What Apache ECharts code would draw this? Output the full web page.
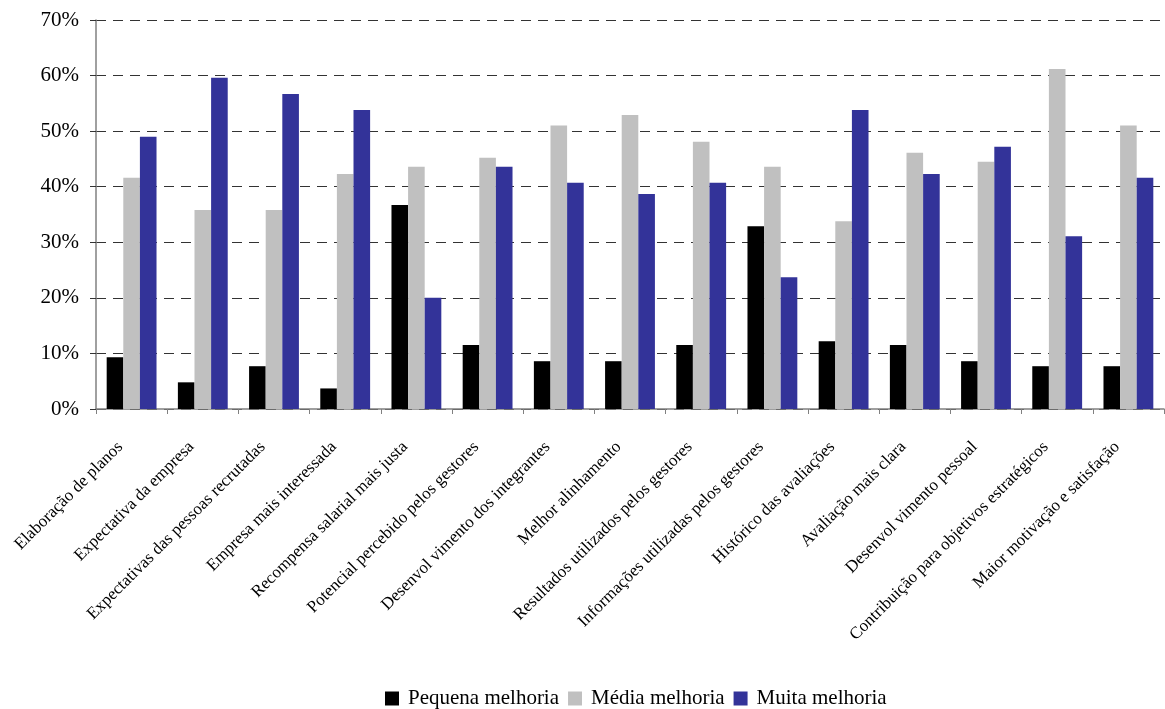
<!DOCTYPE html>
<html>
<head>
<meta charset="utf-8">
<script src="https://cdn.jsdelivr.net/npm/echarts@6/dist/echarts.min.js"></script>
<style>
html,body{margin:0;padding:0;background:#fff;}
#chart{width:1165px;height:709px;}
</style>
</head>
<body>
<div id="chart"></div>
<script>
const categories = [
  "Elaboração de planos",
  "Expectativa da empresa",
  "Expectativas das pessoas recrutadas",
  "Empresa mais interessada",
  "Recompensa salarial mais justa",
  "Potencial percebido pelos gestores",
  "Desenvol vimento dos integrantes",
  "Melhor alinhamento",
  "Resultados utilizados pelos gestores",
  "Informações utilizadas pelos gestores",
  "Histórico das avaliações",
  "Avaliação mais clara",
  "Desenvol vimento pessoal",
  "Contribuição para objetivos estratégicos",
  "Maior motivação e satisfação"
];
const seriesNames = ["Pequena melhoria", "Média melhoria", "Muita melhoria"];
const pequena = [9.3, 4.8, 7.7, 3.7, 36.7, 11.5, 8.6, 8.6, 11.5, 32.9, 12.2, 11.5, 8.6, 7.7, 7.7];
const media   = [41.6, 35.8, 35.8, 42.3, 43.6, 45.2, 51.0, 52.9, 48.1, 43.6, 33.8, 46.1, 44.5, 61.2, 51.0];
const muita   = [49.0, 59.6, 56.7, 53.8, 20.0, 43.6, 40.7, 38.7, 40.7, 23.7, 53.8, 42.3, 47.2, 31.1, 41.6];
const yTicks = [0, 10, 20, 30, 40, 50, 60, 70];

const font = "'Liberation Serif', 'Times New Roman', serif";
const colors = ["#000000", "#C0C0C0", "#333399"];
const chart = echarts.init(document.getElementById('chart'), null, {renderer: 'canvas'});
const values = [pequena, media, muita];
chart.setOption({
  animation: false,
  backgroundColor: '#ffffff',
  color: colors,
  grid: {left: 96, right: 1, top: 20, bottom: 300, containLabel: false},
  legend: {
    top: 688,
    left: 385,
    padding: 0,
    itemWidth: 14,
    itemHeight: 14,
    itemGap: 9,
    icon: 'rect',
    textStyle: {fontFamily: font, fontSize: 21, color: '#000', padding: [0, 0, 0, 4]},
    data: seriesNames
  },
  xAxis: {
    type: 'category',
    data: categories,
    boundaryGap: true,
    axisLine: {lineStyle: {color: '#808080', width: 1.5}},
    axisTick: {show: true, alignWithLabel: false, length: 5, inside: false, lineStyle: {color: '#808080'}},
    axisLabel: {
      interval: 0,
      rotate: 45,
      margin: 24,
      padding: [0, 16, 0, 0],
      fontFamily: font,
      fontSize: 17,
      color: '#000'
    },
    splitLine: {show: false}
  },
  yAxis: {
    type: 'value',
    min: yTicks[0],
    max: yTicks[yTicks.length - 1],
    interval: 10,
    axisLine: {show: true, lineStyle: {color: '#808080', width: 1.5}},
    axisTick: {show: true, length: 6, lineStyle: {color: '#333'}},
    axisLabel: {
      formatter: v => v + '%',
      fontFamily: font,
      fontSize: 21,
      color: '#000',
      margin: 17
    },
    splitLine: {show: true, lineStyle: {color: '#333', type: [10, 7], width: 1}}
  },
  series: seriesNames.map((name, i) => ({
    name: name,
    type: 'bar',
    data: values[i],
    barGap: '0%',
    barCategoryGap: '30%',
    itemStyle: {color: colors[i]}
  }))
});
</script>
</body>
</html>
